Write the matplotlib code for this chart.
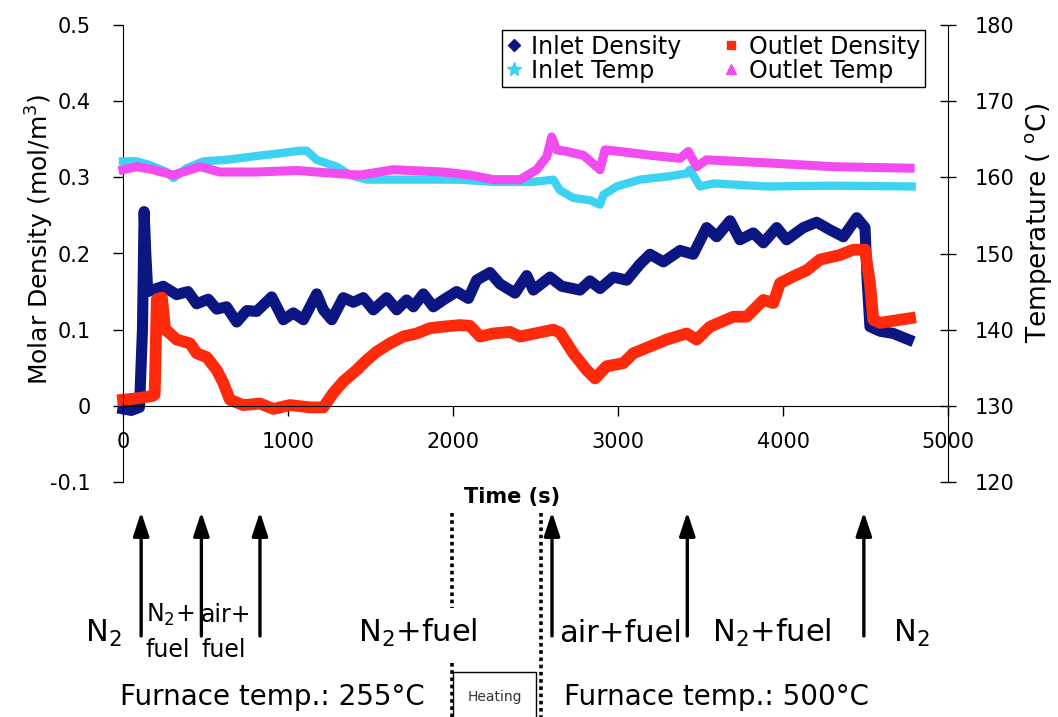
import numpy as np
import matplotlib
matplotlib.use("Agg")
import matplotlib.pyplot as plt
import matplotlib.transforms as mtransforms
from matplotlib.lines import Line2D
from matplotlib.patches import Rectangle

plt.rcParams["font.family"] = ["DejaVu Sans"]

# ---- data (time in s) ----
inlet_density_t = [0, 50, 100, 118, 128, 138, 150, 244, 325, 394, 446, 517, 568, 628, 689, 750,
                   810, 901, 972, 1032, 1093, 1174, 1214, 1265, 1335, 1396, 1456, 1517, 1598,
                   1659, 1719, 1760, 1820, 1881, 1941, 2022, 2093, 2143, 2224, 2285, 2376, 2447,
                   2487, 2588, 2659, 2770, 2830, 2891, 2972, 3053, 3133, 3194, 3275, 3376, 3456,
                   3537, 3598, 3679, 3739, 3820, 3881, 3962, 4022, 4123, 4204, 4285, 4366, 4447,
                   4497, 4510, 4527, 4588, 4669, 4760]
inlet_density = [-0.004, -0.006, -0.002, 0.10, 0.255, 0.20, 0.150, 0.157, 0.146, 0.150, 0.134,
                 0.140, 0.127, 0.130, 0.110, 0.125, 0.124, 0.143, 0.113, 0.122, 0.113, 0.147,
                 0.126, 0.113, 0.142, 0.136, 0.142, 0.126, 0.142, 0.126, 0.139, 0.130, 0.147,
                 0.130, 0.139, 0.150, 0.141, 0.165, 0.175, 0.160, 0.148, 0.171, 0.152, 0.169,
                 0.157, 0.152, 0.164, 0.154, 0.169, 0.165, 0.186, 0.199, 0.189, 0.204, 0.199,
                 0.234, 0.222, 0.243, 0.218, 0.227, 0.214, 0.234, 0.218, 0.234, 0.241, 0.231,
                 0.222, 0.247, 0.234, 0.165, 0.104, 0.098, 0.095, 0.087]

outlet_density_t = [0, 90, 180, 192, 205, 236, 255, 275, 325, 406, 447, 507, 568, 608, 648, 729,
                    830, 911, 1012, 1133, 1214, 1275, 1335, 1416, 1477, 1537, 1618, 1699, 1780,
                    1861, 1941, 2042, 2103, 2164, 2244, 2345, 2406, 2608, 2649, 2729, 2810, 2861,
                    2931, 3032, 3093, 3194, 3295, 3416, 3477, 3558, 3699, 3780, 3881, 3941, 3982,
                    4063, 4144, 4224, 4345, 4426, 4497, 4527, 4547, 4588, 4770]
outlet_density = [0.008, 0.010, 0.013, 0.015, 0.140, 0.142, 0.100, 0.097, 0.087, 0.082, 0.069,
                  0.064, 0.047, 0.030, 0.008, 0.001, 0.003, -0.004, 0.001, -0.002, -0.002, 0.017,
                  0.032, 0.047, 0.060, 0.071, 0.082, 0.091, 0.095, 0.102, 0.104, 0.106, 0.105,
                  0.091, 0.095, 0.097, 0.091, 0.100, 0.096, 0.069, 0.047, 0.036, 0.052, 0.056,
                  0.069, 0.078, 0.087, 0.095, 0.087, 0.104, 0.117, 0.117, 0.139, 0.135, 0.161,
                  0.170, 0.178, 0.192, 0.198, 0.205, 0.205, 0.161, 0.113, 0.109, 0.115]

inlet_temp_t = [0, 83, 164, 265, 305, 386, 487, 628, 770, 931, 1073, 1113, 1174, 1295, 1376,
                1477, 1739, 2042, 2244, 2487, 2608, 2648, 2729, 2830, 2891, 2911, 2992, 3133,
                3295, 3416, 3436, 3497, 3578, 3901, 4305, 4780]
inlet_temp = [162.1, 162.1, 161.6, 160.7, 159.9, 161.2, 162.1, 162.3, 162.7, 163.1, 163.5, 163.5,
              162.3, 161.4, 160.3, 159.7, 159.7, 159.7, 159.4, 159.4, 159.7, 158.3, 157.3, 157.0,
              156.4, 157.7, 158.8, 159.7, 160.1, 160.5, 161.0, 158.8, 159.2, 158.8, 158.9, 158.8]

outlet_temp_t = [0, 83, 184, 305, 467, 588, 810, 1052, 1295, 1436, 1638, 1941, 2103, 2244, 2406,
                 2507, 2568, 2598, 2628, 2689, 2790, 2871, 2891, 2921, 3012, 3194, 3376, 3426,
                 3477, 3537, 3901, 4305, 4770]
outlet_temp = [161.0, 161.4, 161.0, 160.3, 161.4, 160.7, 160.7, 160.9, 160.5, 160.3, 161.0, 160.7,
               160.3, 159.7, 159.7, 161.0, 162.7, 165.3, 163.6, 163.4, 162.9, 161.4, 161.0, 163.6,
               163.4, 162.9, 162.5, 163.4, 161.4, 162.3, 161.9, 161.4, 161.2]

x_ticks = [0, 1000, 2000, 3000, 4000, 5000]
y_ticks = [-0.1, 0, 0.1, 0.2, 0.3, 0.4, 0.5]
y_tick_labels = ["-0.1", "0", "0.1", "0.2", "0.3", "0.4", "0.5"]
temp_ticks = [120, 130, 140, 150, 160, 170, 180]

# gas switching events and furnace-heating period (s)
event_times = [110, 475, 830, 2600, 3420, 4490]
heating_start, heating_end = 1995, 2535

NAVY, RED, CYAN, MAGENTA = "#0b1683", "#ff2a0c", "#3ed2f2", "#f24cf0"

W, H = 1058, 717
fig = plt.figure(figsize=(W / 100, H / 100), dpi=100)
ax = fig.add_axes([123 / W, 1 - 482 / H, 825 / W, 457 / H])
ax2 = ax.twinx()

ax.plot(inlet_density_t, inlet_density, color=NAVY, lw=8, solid_joinstyle="round", clip_on=False)
ax.plot(outlet_density_t, outlet_density, color=RED, lw=8.5, solid_joinstyle="round", clip_on=False)
ax2.plot(inlet_temp_t, inlet_temp, color=CYAN, lw=6, solid_joinstyle="round", clip_on=False)
ax2.plot(outlet_temp_t, outlet_temp, color=MAGENTA, lw=6.5, solid_joinstyle="round", clip_on=False)

ax.set_xlim(0, 5000)
ax.set_ylim(-0.1, 0.5)
ax2.set_ylim(120, 180)

ax.spines["top"].set_visible(False)
ax.spines["right"].set_visible(False)
ax.spines["bottom"].set_position(("data", 0))
for s in ["top", "left", "bottom"]:
    ax2.spines[s].set_visible(False)

ax.set_xticks(x_ticks)
ax.set_xticklabels([str(v) for v in x_ticks])
ax.set_yticks(y_ticks)
ax.set_yticklabels(y_tick_labels)
ax2.set_yticks(temp_ticks)

ax.tick_params(axis="y", direction="out", length=7, width=1, pad=16, labelsize=15)
ax.tick_params(axis="x", direction="out", length=7, width=1, pad=12, labelsize=15)
ax2.tick_params(axis="y", direction="inout", length=12, width=1, pad=13, labelsize=15)

fig.text(40 / W, 1 - 239 / H, r"Molar Density (mol/m$^{3}$)", rotation=90,
         ha="center", va="center", fontsize=18)
fig.text(1039 / W, 1 - 223 / H, r"Temperature ( $^{\mathrm{o}}$C)", rotation=90,
         ha="center", va="center", fontsize=19)
fig.text(512 / W, 1 - 497 / H, "Time (s)", ha="center", va="center",
         fontsize=15, fontweight="bold")

handles = [Line2D([], [], ls="none", marker="D", ms=6, color=NAVY),
           Line2D([], [], ls="none", marker="*", ms=10, color=CYAN),
           Line2D([], [], ls="none", marker="s", ms=6, color=RED),
           Line2D([], [], ls="none", marker="^", ms=7, color=MAGENTA)]
labels = ["Inlet Density", "Inlet Temp", "Outlet Density", "Outlet Temp"]
leg = ax2.legend(handles, labels, ncol=2, loc="upper right",
                 bbox_to_anchor=(925 / W, 1 - 30 / H), bbox_transform=fig.transFigure,
                 fancybox=False, edgecolor="black", framealpha=1, fontsize=17,
                 borderpad=0.2, labelspacing=0.0, handlelength=0.6, handletextpad=0.45,
                 columnspacing=1.8, borderaxespad=0)
leg.get_frame().set_linewidth(1.0)

# annotations under the chart: x in data (time), y in figure
trans = mtransforms.blended_transform_factory(ax.transData, fig.transFigure)


def fy(p):
    return 1 - p / H


def tx(p):
    return (p - 123) / 0.165


for t in event_times:
    ax.annotate("", xy=(t, fy(512)), xytext=(t, fy(636)), xycoords=trans, textcoords=trans,
                arrowprops=dict(arrowstyle="-|>,head_length=0.6,head_width=0.2", lw=2.4,
                                color="black", mutation_scale=24, shrinkA=0, shrinkB=0),
                annotation_clip=False)

dots = (0, (1, 1))
ax.add_line(Line2D([heating_start] * 2, [fy(513), fy(608)], transform=trans, color="black",
                   lw=2.6, ls=dots, clip_on=False))
ax.add_line(Line2D([heating_start] * 2, [fy(663), fy(717)], transform=trans, color="black",
                   lw=2.6, ls=dots, clip_on=False))
ax.add_line(Line2D([heating_end] * 2, [fy(513), fy(717)], transform=trans, color="black",
                   lw=2.6, ls=dots, clip_on=False))
ax.add_patch(Rectangle((tx(453), fy(725)), tx(536) - tx(453), fy(672) - fy(725), transform=trans,
                       fill=False, edgecolor="black", lw=1, clip_on=False))

big = 22
ax.text(tx(103), fy(633), "N$_2$", transform=trans, ha="center", va="center", fontsize=big)
ax.text(tx(146), fy(615), "N$_2$+", transform=trans, ha="left", va="center", fontsize=17)
ax.text(tx(146), fy(650), "fuel", transform=trans, ha="left", va="center", fontsize=17)
ax.text(tx(201), fy(615), "air+", transform=trans, ha="left", va="center", fontsize=17)
ax.text(tx(201), fy(650), "fuel", transform=trans, ha="left", va="center", fontsize=17)
ax.text(tx(418), fy(633), "N$_2$+fuel", transform=trans, ha="center", va="center", fontsize=big)
ax.text(tx(621), fy(633), "air+fuel", transform=trans, ha="center", va="center", fontsize=big)
ax.text(tx(772), fy(633), "N$_2$+fuel", transform=trans, ha="center", va="center", fontsize=big)
ax.text(tx(911), fy(633), "N$_2$", transform=trans, ha="center", va="center", fontsize=big)
ax.text(tx(272), fy(697), "Furnace temp.: 255°C", transform=trans, ha="center", va="center",
        fontsize=20)
ax.text(tx(717), fy(697), "Furnace temp.: 500°C", transform=trans, ha="center", va="center",
        fontsize=20)
ax.text(tx(495), fy(697), "Heating", transform=trans, ha="center", va="center", fontsize=10,
        color="#333333")

fig.savefig("out.png", dpi=100)
